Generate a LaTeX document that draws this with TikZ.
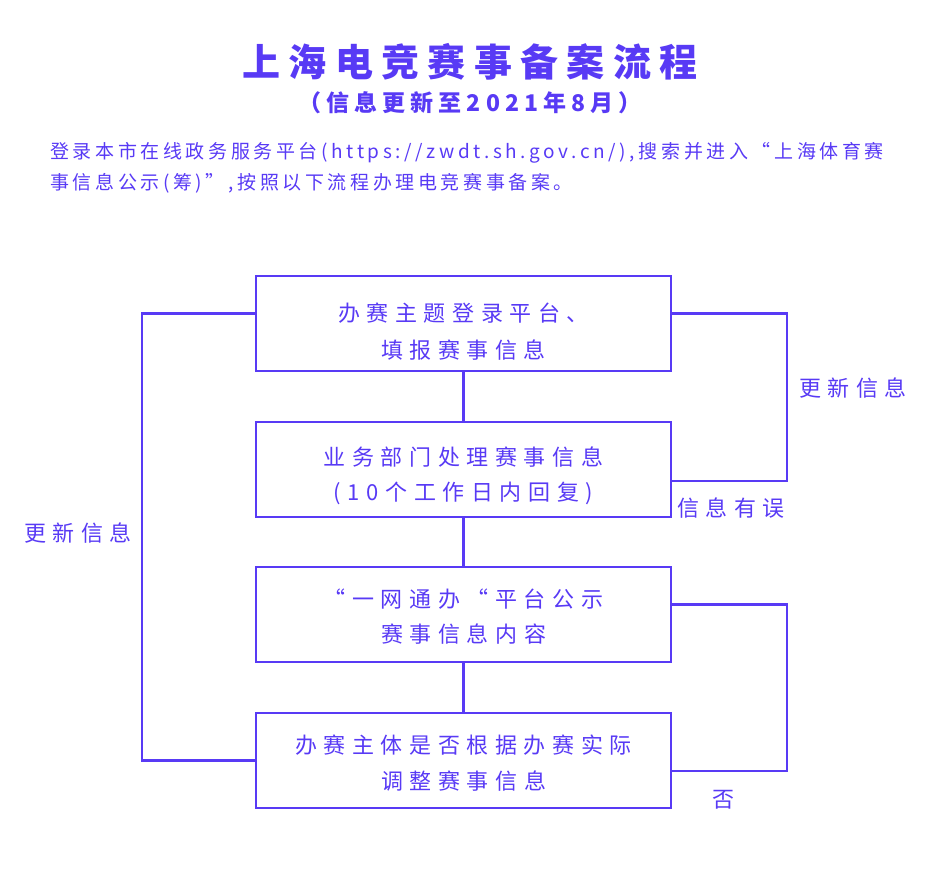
\documentclass[tikz,border=0pt]{standalone}
\usepackage{fontspec}
\usepackage{xcolor}
\usetikzlibrary{positioning,calc}
\setmainfont{Noto Sans CJK SC}
\newfontfamily\titlefont[LetterSpace=22]{Noto Sans CJK SC}
\newfontfamily\boxfont[LetterSpace=30]{Noto Sans CJK SC}
\newfontfamily\introfont[LetterSpace=19]{Noto Sans CJK SC}
\definecolor{flowviolet}{RGB}{88, 58, 245}

\tikzset{
  stagebox/.style={draw=flowviolet, line width=2.4pt, minimum width=415pt, minimum height=95pt},
  stagetext/.style={align=center, text=flowviolet, font=\boxfont\fontsize{22}{36}\selectfont},
  loopline/.style={draw=flowviolet, line width=2.4pt},
  looplabel/.style={text=flowviolet, font=\boxfont\fontsize{22}{24}\selectfont}
}

\begin{document}
\begin{tikzpicture}[x=1pt, y=-1pt]
        \useasboundingbox (0,0) rectangle (942,886);

        % Heading
        \node[text=flowviolet, font=\titlefont\bfseries\fontsize{38}{40}\selectfont] (title) at (470,62) {上海电竞赛事备案流程};
        \node[text=flowviolet, font=\titlefont\bfseries\fontsize{23}{26}\selectfont] (subtitle) at (470,103) {（信息更新至2021年8月）};
        \node[text=flowviolet, font=\introfont\fontsize{19}{31}\selectfont, align=left, anchor=north west, inner sep=0pt] (intro) at (50,142)
            {登录本市在线政务服务平台(https://zwdt.sh.gov.cn/),搜索并进入“上海体育赛\\事信息公示(筹)”,按照以下流程办理电竞赛事备案。};

        % Stages
        \node[stagebox, label={[stagetext, font=\boxfont\fontsize{22}{37}\selectfont, yshift=-8pt]center:{办赛主题登录平台、\\填报赛事信息}}] (s1) at (463.5,323.5) {};
        \node[stagebox, label={[stagetext, font=\boxfont\fontsize{22}{35}\selectfont, yshift=-6pt]center:{业务部门处理赛事信息\\(10个工作日内回复)}}] (s2) at (463.5,469.5) {};
        \node[stagebox, label={[stagetext, font=\boxfont\fontsize{22}{35}\selectfont, yshift=-2pt]center:{“一网通办“平台公示\\赛事信息内容}}] (s3) at (463.5,614.5) {};
        \node[stagebox, label={[stagetext, yshift=-3pt]center:{办赛主体是否根据办赛实际\\调整赛事信息}}] (s4) at (463.5,760.5) {};

        \draw[loopline] (s1) -- (s2);
        \draw[loopline] (s2) -- (s3);
        \draw[loopline] (s3) -- (s4);

        % Loops back
        \coordinate (leftrail) at (142,0);
        \coordinate (rightrail) at (787,0);
        \draw[loopline] ([yshift=10pt]s1.west) -| (leftrail |- s4.west) -- (s4.west);
        \draw[loopline] ([yshift=10pt]s1.east) -| (rightrail |- 0,481) -- (s2.east |- 0,481);
        \draw[loopline] ([yshift=10pt]s3.east) -| (rightrail |- 0,771) -- (s4.east |- 0,771);

        % Loop labels
        \node[looplabel] (upd1) at (853,388) {更新信息};
        \node[looplabel] (err) at (731,508) {信息有误};
        \node[looplabel] (no) at (723,800) {否};
        \node[looplabel] (upd2) at (78,533) {更新信息};
    \end{tikzpicture}
\end{document}
